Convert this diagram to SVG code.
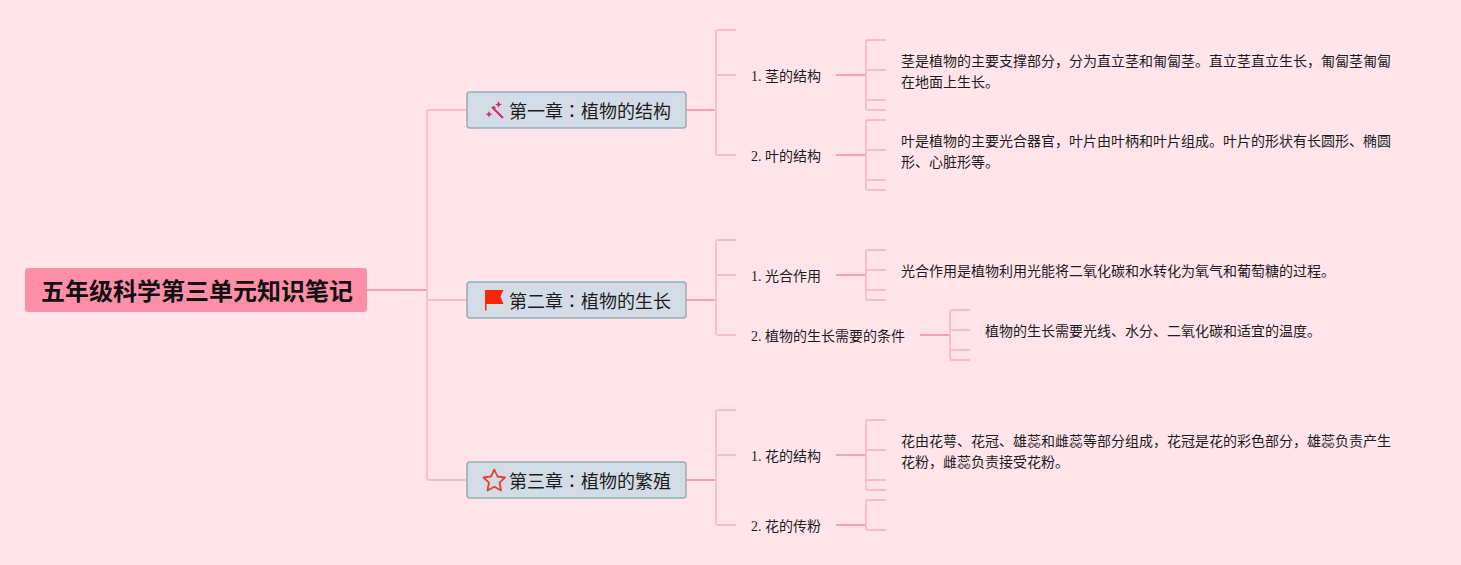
<svg xmlns="http://www.w3.org/2000/svg" width="1461" height="565" viewBox="0 0 1461 565">
<style>
text{font-family:"Liberation Serif","Noto Sans CJK SC",serif;fill:#1c1c1c}
.root{font-family:"Noto Sans CJK SC",sans-serif;font-size:24px;font-weight:700;fill:#111}
.ch{font-size:18px;font-family:"Noto Sans CJK TC",sans-serif}
.sub,.note{font-size:14px}
.box{fill:#d3dce6;stroke:#94aeb0;stroke-width:1.5}
.l1{fill:none;stroke:#f9bdd0;stroke-width:2}
.l3{fill:none;stroke:#f9bdd0;stroke-width:2}
.t{fill:none;stroke:#f4a0b8;stroke-width:2}
</style>
<rect width="1461" height="565" fill="#ffe4ec"/>
<g id="connectors">
<path class="t" d="M367 290H427"/>
<path class="l1" d="M467 110H429Q427 110 427 112V478Q427 480 429 480H467M427 300H467"/>
<path class="t" d="M686 110H716M686 300H716M686 480H716M836 75H866M836 155H866M836 275H866M920 335H950M836 455H866M836 525H866"/>
<path class="l3" d="M736 30H718Q716 30 716 32V153Q716 155 718 155H736M716 75H736"/>
<path class="l3" d="M736 240H718Q716 240 716 242V333Q716 335 718 335H736M716 275H736"/>
<path class="l3" d="M736 410H718Q716 410 716 412V523Q716 525 718 525H736M716 455H736"/>
<path class="l3" d="M886 40H868Q866 40 866 42V108Q866 110 868 110H886M866 70H886M866 100H886"/>
<path class="l3" d="M886 120H868Q866 120 866 122V188Q866 190 868 190H886M866 150H886M866 180H886"/>
<path class="l3" d="M886 250H868Q866 250 866 252V298Q866 300 868 300H886M866 270H886M866 290H886"/>
<path class="l3" d="M970 310H952Q950 310 950 312V358Q950 360 952 360H970M950 330H970M950 350H970"/>
<path class="l3" d="M886 420H868Q866 420 866 422V488Q866 490 868 490H886M866 450H886M866 480H886"/>
<path class="l3" d="M886 500H868Q866 500 866 502V528Q866 530 868 530H886"/>
</g>
<g id="root"><rect x="25" y="268" width="342" height="44" rx="3" fill="#ff8fa9"/><text class="root" x="41" y="300">五年级科学第三单元知识笔记</text></g>
<g id="ch1"><rect class="box" x="467" y="92" width="219" height="36" rx="3"/>
<g fill="#e0245e"><path d="M492 107L503 118" stroke="#e0245e" stroke-width="2" fill="none"/><path d="M498.500 101l1 2.500 2.500 1-2.500 1-1 2.500-1-2.500-2.500-1 2.500-1zM489 111l1 2.200 2.500 1-2.500 1-1 2.200-1-2.200-2.500-1 2.500-1zM494 105.500l.8 1.500 1.500.8-1.500.8-.8 1.500-.8-1.500-1.500-.8 1.500-.8z"/></g>
<text class="ch" x="509" y="118">第一章：植物的结构</text></g>
<g id="ch2"><rect class="box" x="467" y="282" width="219" height="36" rx="3"/>
<path d="M485 290H503.500L500.500 296.500L503.500 304H486.500V310.500H485Z" fill="#f5260a"/>
<text class="ch" x="509" y="308">第二章：植物的生长</text></g>
<g id="ch3"><rect class="box" x="467" y="462" width="219" height="36" rx="3"/>
<path d="M494.300 469.500L497.500 476.500L505 477.500L499.600 482.700L501 490.500L494.300 486.700L487.500 490.500L489 482.700L483.500 477.500L491 476.500Z" fill="none" stroke="#e8402f" stroke-width="1.800" stroke-linejoin="round"/>
<text class="ch" x="509" y="488">第三章：植物的繁殖</text></g>
<g id="s1"><text class="sub" x="751" y="81">1. 茎的结构</text></g>
<g id="s2"><text class="sub" x="751" y="161">2. 叶的结构</text></g>
<g id="s3"><text class="sub" x="751" y="281">1. 光合作用</text></g>
<g id="s4"><text class="sub" x="751" y="341">2. 植物的生长需要的条件</text></g>
<g id="s5"><text class="sub" x="751" y="461">1. 花的结构</text></g>
<g id="s6"><text class="sub" x="751" y="531">2. 花的传粉</text></g>
<g id="n1"><text class="note" x="901" y="66">茎是植物的主要支撑部分，分为直立茎和匍匐茎。直立茎直立生长，匍匐茎匍匐</text><text class="note" x="901" y="87">在地面上生长。</text></g>
<g id="n2"><text class="note" x="901" y="146">叶是植物的主要光合器官，叶片由叶柄和叶片组成。叶片的形状有长圆形、椭圆</text><text class="note" x="901" y="167">形、心脏形等。</text></g>
<g id="n3"><text class="note" x="901" y="276">光合作用是植物利用光能将二氧化碳和水转化为氧气和葡萄糖的过程。</text></g>
<g id="n4"><text class="note" x="985" y="336">植物的生长需要光线、水分、二氧化碳和适宜的温度。</text></g>
<g id="n5"><text class="note" x="901" y="446">花由花萼、花冠、雄蕊和雌蕊等部分组成，花冠是花的彩色部分，雄蕊负责产生</text><text class="note" x="901" y="467">花粉，雌蕊负责接受花粉。</text></g>
</svg>
